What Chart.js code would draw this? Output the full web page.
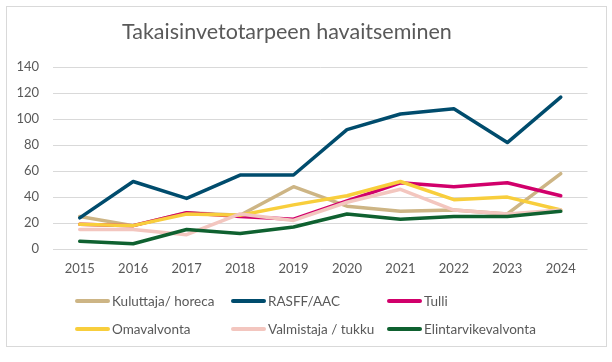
<!DOCTYPE html>
<html>
<head>
<meta charset="utf-8">
<script src="https://cdn.jsdelivr.net/npm/chart.js@4.4.0/dist/chart.umd.min.js"></script>
<style>
  html, body { margin: 0; padding: 0; background: #fff; }
  #wrap { position: relative; width: 612px; height: 362px; overflow: hidden; font-family: Lato, "Open Sans", sans-serif; }
  #frame { position: absolute; left: 6px; top: 6px; width: 601px; height: 341px; box-sizing: border-box; border: 1px solid #D9D9D9; }
  #c { position: absolute; left: 0; top: 0; }
  #title { position: absolute; left: 122px; top: 18px; font-size: 21.5px; color: #595959; white-space: nowrap; }
  .leg { position: absolute; font-size: 13.5px; color: #595959; white-space: nowrap; height: 16px; line-height: 16px; }
  .leg span.sw { position: absolute; left: 0; top: 6px; width: 35px; height: 4px; border-radius: 2px; }
  .leg span.tx { position: absolute; left: 37px; top: 0; }
</style>
</head>
<body>
<div id="wrap">
  <div id="frame"></div>
  <canvas id="c" width="612" height="362"></canvas>
  <div id="title">Takaisinvetotarpeen havaitseminen</div>
  <div id="legend"></div>
</div>
<script>
const categories = ["2015","2016","2017","2018","2019","2020","2021","2022","2023","2024"];
const seriesNames = ["Kuluttaja/ horeca","RASFF/AAC","Tulli","Omavalvonta","Valmistaja / tukku","Elintarvikevalvonta"];
const kuluttaja   = [25, 18, 28, 26, 48, 33, 29, 30, 27, 58];
const rasff       = [24, 52, 39, 57, 57, 92, 104, 108, 82, 117];
const tulli       = [19, 18, 28, 25, 23, 37, 51, 48, 51, 41];
const omavalvonta = [19, 18, 27, 26, 34, 41, 52, 38, 40, 30];
const valmistaja  = [15, 15, 11, 27, 22, 36, 46, 30, 27, 30];
const elintarvike = [6, 4, 15, 12, 17, 27, 23, 25, 25, 29];
const yTicks = [0, 20, 40, 60, 80, 100, 120, 140];

const colors = ["#CDB585", "#004C6D", "#D1006B", "#F8CE3C", "#F3C6BF", "#0F6130"];
const values = [kuluttaja, rasff, tulli, omavalvonta, valmistaja, elintarvike];

const datasets = values.map((v, i) => ({
  label: seriesNames[i],
  data: v,
  borderColor: colors[i],
  backgroundColor: colors[i],
  borderWidth: 3.5,
  pointRadius: 0,
  pointHoverRadius: 0,
  tension: 0,
  fill: false,
  borderJoinStyle: 'round',
  borderCapStyle: 'round',
  order: values.length - i
}));

new Chart(document.getElementById('c'), {
  type: 'line',
  data: { labels: categories, datasets },
  options: {
    responsive: false,
    animation: false,
    events: [],
    layout: { padding: { left: 0, right: 24.5, top: 67.3, bottom: 83 } },
    plugins: { legend: { display: false }, title: { display: false }, tooltip: { enabled: false } },
    scales: {
      x: {
        offset: true,
        grid: { display: false, drawTicks: false },
        border: { display: false },
        ticks: { color: '#595959', font: { family: 'Lato', size: 13 }, padding: 12, maxRotation: 0 },
        afterFit: s => { s.height = 30; }
      },
      y: {
        min: 0, max: 140,
        afterBuildTicks: s => { s.ticks = yTicks.map(v => ({ value: v })); },
        grid: { color: '#D9D9D9', lineWidth: 1, drawTicks: false },
        border: { display: false },
        ticks: { color: '#595959', font: { family: 'Lato', size: 13 }, padding: 14 },
        afterFit: s => { s.width = 53; }
      }
    }
  }
});

const legend = document.getElementById('legend');
const colX = [75, 231, 387];
const rowY = [293, 321];
seriesNames.forEach((name, i) => {
  const d = document.createElement('div');
  d.className = 'leg';
  d.style.left = colX[i % 3] + 'px';
  d.style.top = rowY[Math.floor(i / 3)] + 'px';
  d.innerHTML = '<span class="sw" style="background:' + colors[i] + '"></span><span class="tx"></span>';
  d.querySelector('.tx').textContent = name;
  legend.appendChild(d);
});
</script>
</body>
</html>
